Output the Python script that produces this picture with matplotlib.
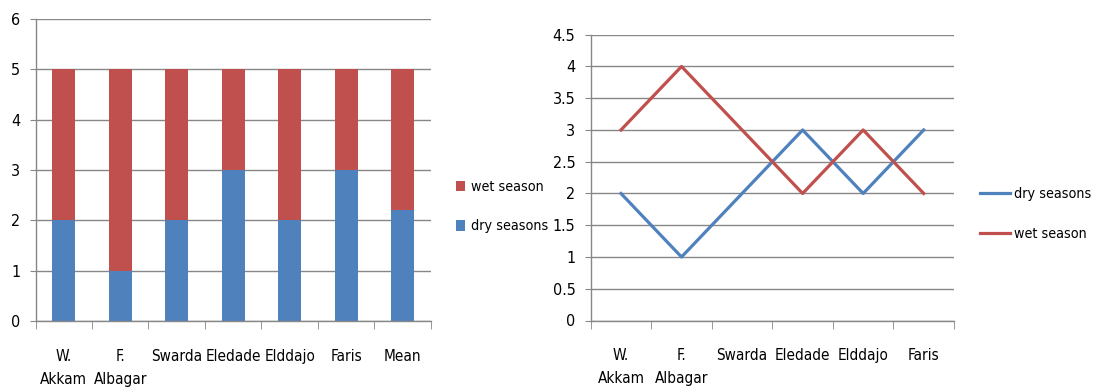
import matplotlib
matplotlib.use("Agg")
import matplotlib.pyplot as plt
import numpy as np

bar_cats = ["W.\nAkkam", "F.\nAlbagar", "Swarda", "Eledade", "Elddajo", "Faris", "Mean"]
bar_dry = [2, 1, 2, 3, 2, 3, 2.2]
bar_wet = [3, 4, 3, 2, 3, 2, 2.8]

line_cats = ["W.\nAkkam", "F.\nAlbagar", "Swarda", "Eledade", "Elddajo", "Faris"]
line_dry = [2, 1, 2, 3, 2, 3]
line_wet = [3, 4, 3, 2, 3, 2]

plt.rcParams['font.family'] = ['DejaVu Sans']
plt.rcParams['font.stretch'] = 'condensed'

BLUE = "#4F81BD"
RED = "#C0504D"
GRID = "#878787"
W, H = 1093, 390
FS = 11
FSY = 11.5
FSL = 10.3

fig = plt.figure(figsize=(W/100, H/100), dpi=100)

def style(ax):
    ax.grid(axis='y', color=GRID, linewidth=1.0)
    ax.set_axisbelow(True)
    for s in ['top', 'right']:
        ax.spines[s].set_visible(False)
    for s in ['left', 'bottom']:
        ax.spines[s].set_color(GRID)
        ax.spines[s].set_linewidth(1.0)
    ax.tick_params(axis='y', length=4, color=GRID, labelsize=FSY, pad=7)
    ax.tick_params(axis='x', which='major', length=0, labelsize=FS, pad=20)
    ax.tick_params(axis='x', which='minor', length=6, color=GRID)

# Left: stacked bars
ax1 = fig.add_axes([35.5/W, 1-321/H, (431-35.5)/W, (321-19)/H])
x1 = np.arange(len(bar_cats))
b_dry = ax1.bar(x1, bar_dry, width=0.41, color=BLUE, label="dry seasons")
b_wet = ax1.bar(x1, bar_wet, bottom=bar_dry, width=0.41, color=RED, label="wet season")
ax1.set_xlim(-0.5, len(bar_cats)-0.5)
ax1.set_ylim(0, 6)
ax1.set_yticks(np.arange(0, 7, 1))
ax1.set_xticks(x1)
ax1.set_xticklabels(bar_cats, linespacing=1.65)
ax1.set_xticks(np.arange(-0.5, len(bar_cats), 1), minor=True)
style(ax1)
fig.legend([b_wet, b_dry], ["wet season", "dry seasons"], loc='center left',
           bbox_to_anchor=(456/W, 1-206.5/H), frameon=False, fontsize=FSL,
           borderpad=0, borderaxespad=0,
           handlelength=0.62, handleheight=0.8, handletextpad=0.45, labelspacing=1.75)

# Right: lines
ax2 = fig.add_axes([590.7/W, 1-320.5/H, (954-590.7)/W, (320.5-34.7)/H])
x2 = np.arange(len(line_cats))
l_dry, = ax2.plot(x2, line_dry, color=BLUE, linewidth=2.3, label="dry seasons")
l_wet, = ax2.plot(x2, line_wet, color=RED, linewidth=2.3, label="wet season")
ax2.set_xlim(-0.5, len(line_cats)-0.5)
ax2.set_ylim(0, 4.5)
yt = np.arange(0, 4.51, 0.5)
ax2.set_yticks(yt)
ax2.set_yticklabels([f"{v:g}" for v in yt])
ax2.set_xticks(x2)
ax2.set_xticklabels(line_cats, linespacing=1.65)
ax2.set_xticks(np.arange(-0.5, len(line_cats), 1), minor=True)
style(ax2)
fig.legend([l_dry, l_wet], ["dry seasons", "wet season"], loc='center left',
           bbox_to_anchor=(980/W, 1-214/H), frameon=False, fontsize=FSL,
           borderpad=0, borderaxespad=0,
           handlelength=2.1, handletextpad=0.25, labelspacing=1.75)

fig.savefig("out.png", dpi=100, facecolor='white')
